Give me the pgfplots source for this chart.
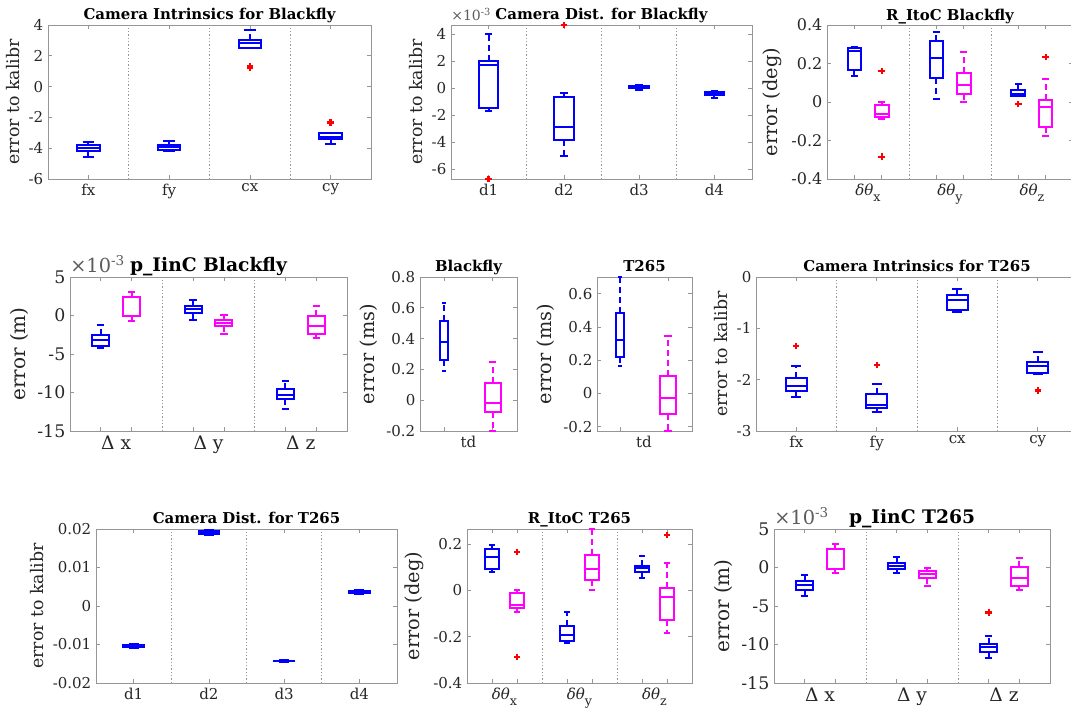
\documentclass[border=0pt]{standalone}
\usepackage{pgfplots}
\pgfplotsset{compat=1.18}
\usepgfplotslibrary{statistics}
\usepackage{fontspec}
\setmainfont{DejaVu Serif}
\newcommand\fs[1]{\fontsize{#1}{#1}\selectfont}
\definecolor{mblue}{RGB}{0,0,255}
\definecolor{mmag}{RGB}{255,0,255}
\definecolor{mred}{RGB}{255,0,0}
\definecolor{axgray}{RGB}{150,150,150}
\definecolor{txt}{RGB}{38,38,38}
\pgfplotsset{
  boxplot/draw/whisker/.code 2 args={%
    \draw[dash pattern=on 4.5pt off 3pt] (boxplot cs:#1) -- (boxplot cs:#2);
    \draw[solid] (boxplot whisker cs:#2,0) -- (boxplot whisker cs:#2,1);
  },
  every axis title/.style={at={(0.5,1)}, anchor=base, yshift=3.75pt, black, font=\bfseries\fs{11.2}},
  mat/.style={
    scale only axis, anchor=south west, clip=false,
    boxplot/draw direction=y, scaled y ticks=false,
    axis line style={axgray, line width=0.6pt},
    tick style={axgray, line width=0.5pt},
    tick align=inside, major tick length=3pt, minor tick length=3pt,
    tick label style={txt, font=\fs{11.25}},
    label style={txt},
    ylabel style={font=\fs{13}},
    xlabel style={font=\fs{11.25}},
    /pgf/number format/assume math mode=true,
  },
  lbig/.style={ylabel style={font=\fs{14.5}}},
  big/.style={
    yticklabel style={font=\fs{13}},
    xticklabel style={font=\fs{14}},
    ylabel style={font=\fs{15}},
    title style={font=\bfseries\fs{14}},
  },
  grp/.style={major x tick style={draw=none}},
  sep/.style={axgray, dash pattern=on 1pt off 1.5pt, line width=0.5pt, forget plot},
  out/.style={only marks, mark=+, mred, mark size=2.4pt, mark options={line width=1.7pt, solid}},
}
% color, position, lower whisker, lower quartile, median, upper quartile, upper whisker, box width, cap width
\newcommand\bx[9]{\addplot[#1, line width=1.5pt, boxplot prepared={draw position=#2, lower whisker=#3, lower quartile=#4, median=#5, upper quartile=#6, upper whisker=#7, box extend=#8, whisker extend=#9}] coordinates {};}
\newcommand\dth[1]{\textit{δθ}\raisebox{-5pt}{\fs{9.5}#1}}
\begin{document}
\begin{tikzpicture}
\path[use as bounding box] (0,0) rectangle (803.25pt,534.75pt);
\clip (0,0) rectangle (803.25pt,534.75pt);

% 1 Camera Intrinsics for Blackfly
\begin{axis}[mat, at={(36pt,400.5pt)}, width=242.25pt, height=115.5pt,
  xmin=0.5, xmax=4.5, ymin=-6, ymax=4, ytick={-6,-4,-2,0,2,4}, yticklabels={-6,-4,-2,0,2,4},
  xtick={1,2,3,4}, xticklabels={fx,fy,cx,cy},
  ylabel={error to kalibr}, title={Camera Intrinsics for Blackfly}]
\addplot[sep] coordinates {(1.5,-6) (1.5,4)};
\addplot[sep] coordinates {(2.5,-6) (2.5,4)};
\addplot[sep] coordinates {(3.5,-6) (3.5,4)};
\bx{mblue}{1}{-4.55}{-4.2}{-3.98}{-3.78}{-3.6}{0.28}{0.14}
\bx{mblue}{2}{-4.2}{-4.1}{-3.93}{-3.8}{-3.55}{0.28}{0.14}
\bx{mblue}{3}{2.48}{2.48}{2.81}{3.03}{3.68}{0.28}{0.14}
\bx{mblue}{4}{-3.73}{-3.42}{-3.25}{-2.99}{-2.99}{0.28}{0.14}
\addplot[out] coordinates {(3,1.35) (3,1.2) (4,-2.34)};
\end{axis}

% 2 Camera Dist. for Blackfly (x 1e-3)
\begin{axis}[mat, at={(338.25pt,400.5pt)}, width=225.75pt, height=115.5pt,
  xmin=0.5, xmax=4.5, ymin=-6.75, ymax=4.7, ytick={-6,-4,-2,0,2,4}, yticklabels={-6,-4,-2,0,2,4},
  xtick={1,2,3,4}, xticklabels={d1,d2,d3,d4},
  ylabel={error to kalibr}, title={Camera Dist. for Blackfly}]
\addplot[sep] coordinates {(1.5,-6.75) (1.5,4.7)};
\addplot[sep] coordinates {(2.5,-6.75) (2.5,4.7)};
\addplot[sep] coordinates {(3.5,-6.75) (3.5,4.7)};
\bx{mblue}{1}{-1.69}{-1.44}{1.71}{2.03}{4.0}{0.26}{0.1}
\bx{mblue}{2}{-5.06}{-3.83}{-2.85}{-0.63}{-0.33}{0.26}{0.1}
\bx{mblue}{3}{-0.12}{-0.02}{0.08}{0.15}{0.22}{0.26}{0.1}
\bx{mblue}{4}{-0.7}{-0.5}{-0.4}{-0.3}{-0.2}{0.26}{0.1}
\addplot[out] coordinates {(1,-6.74) (2,4.69)};
\node[anchor=south west, font=\fs{10.5}, txt!75, inner sep=0pt, yshift=3pt] at (rel axis cs:0,1) {×10\textsuperscript{-3}};
\end{axis}

% 3 R_ItoC Blackfly
\begin{axis}[mat, grp, lbig, at={(620.25pt,400.5pt)}, width=184.5pt, height=115.5pt,
  xmin=0, xmax=9, ymin=-0.4, ymax=0.4, ytick={-0.4,-0.2,0,0.2,0.4}, yticklabels={-0.4,-0.2,0,0.2,0.4},
  yticklabel style={font=\fs{12}},
  xtick={1.5,4.5,7.5}, xticklabels={\dth{x},\dth{y},\dth{z}}, minor xtick={1,2,4,5,7,8},
  ylabel={error (deg)}, title={R\_ItoC Blackfly}]
\addplot[sep] coordinates {(3,-0.4) (3,0.4)};
\addplot[sep] coordinates {(6,-0.4) (6,0.4)};
\bx{mblue}{1}{0.135}{0.166}{0.265}{0.28}{0.287}{0.5}{0.25}
\bx{mmag}{2}{-0.09}{-0.076}{-0.064}{-0.016}{0.0}{0.5}{0.25}
\bx{mblue}{4}{0.014}{0.126}{0.227}{0.319}{0.365}{0.5}{0.25}
\bx{mmag}{5}{0.0}{0.042}{0.088}{0.152}{0.26}{0.5}{0.25}
\bx{mblue}{7}{0.031}{0.031}{0.042}{0.062}{0.092}{0.5}{0.25}
\bx{mmag}{8}{-0.177}{-0.128}{-0.024}{0.010}{0.118}{0.5}{0.25}
\addplot[out] coordinates {(2,0.161) (2,-0.284) (7,-0.01) (8,0.235)};
\end{axis}

% 4 p_IinC Blackfly (x 1e-3)
\begin{axis}[mat, big, grp, at={(52.5pt,211.5pt)}, width=207.75pt, height=115.5pt,
  xmin=0, xmax=9, ymin=-15, ymax=5, ytick={-15,-10,-5,0,5}, yticklabels={-15,-10,-5,0,5},
  xtick={1.5,4.5,7.5}, xticklabels={Δ x,Δ y,Δ z}, minor xtick={1,2,4,5,7,8},
  ylabel={error (m)}, title={p\_IinC Blackfly}]
\addplot[sep] coordinates {(3,-15) (3,5)};
\addplot[sep] coordinates {(6,-15) (6,5)};
\bx{mblue}{1}{-4.16}{-3.98}{-3.12}{-2.47}{-1.26}{0.55}{0.24}
\bx{mmag}{2}{-0.7}{-0.1}{-0.01}{2.41}{3.06}{0.55}{0.24}
\bx{mblue}{4}{-0.53}{0.33}{0.9}{1.2}{1.98}{0.55}{0.24}
\bx{mmag}{5}{-2.34}{-1.3}{-0.96}{-0.62}{0.03}{0.55}{0.24}
\bx{mblue}{7}{-12.2}{-10.9}{-10.3}{-9.56}{-8.48}{0.55}{0.24}
\bx{mmag}{8}{-2.9}{-2.34}{-1.39}{-0.01}{1.29}{0.55}{0.24}
\node[anchor=south west, font=\fs{14.5}, txt!75, inner sep=0pt, yshift=3pt] at (rel axis cs:0,1) {×10\textsuperscript{-3}};
\end{axis}

% 5 Blackfly td
\begin{axis}[mat, grp, lbig, at={(315pt,211.5pt)}, width=72.75pt, height=115.5pt,
  xmin=0.5, xmax=2.5, ymin=-0.2, ymax=0.8, ytick={-0.2,0,0.2,0.4,0.6,0.8}, yticklabels={-0.2,0,0.2,0.4,0.6,0.8},
  xtick={1.5}, xticklabels={td}, minor xtick={1,2},
  ylabel={error (ms)}, title={Blackfly}]
\bx{mblue}{1}{0.19}{0.26}{0.375}{0.515}{0.63}{0.17}{0.08}
\bx{mmag}{2}{-0.2}{-0.075}{-0.021}{0.113}{0.249}{0.32}{0.15}
\end{axis}

% 6 T265 td
\begin{axis}[mat, grp, lbig, at={(447.75pt,211.5pt)}, width=71.25pt, height=115.5pt,
  xmin=0.52, xmax=2.5, ymin=-0.225, ymax=0.70, ytick={-0.2,0,0.2,0.4,0.6}, yticklabels={-0.2,0,0.2,0.4,0.6},
  xtick={1.5}, xticklabels={td}, minor xtick={1,2},
  ylabel={error (ms)}, title={T265}]
\bx{mblue}{1}{0.168}{0.217}{0.32}{0.481}{0.70}{0.17}{0.08}
\bx{mmag}{2}{-0.225}{-0.12}{-0.025}{0.108}{0.344}{0.32}{0.15}
\end{axis}

% 7 Camera Intrinsics for T265
\begin{axis}[mat, at={(567pt,211.5pt)}, width=241.5pt, height=115.5pt,
  xmin=0.5, xmax=4.5, ymin=-3, ymax=0, ytick={-3,-2,-1,0}, yticklabels={-3,-2,-1,0},
  xtick={1,2,3,4}, xticklabels={fx,fy,cx,cy},
  ylabel={error to kalibr}, title={Camera Intrinsics for T265}]
\addplot[sep] coordinates {(1.5,-3) (1.5,0)};
\addplot[sep] coordinates {(2.5,-3) (2.5,0)};
\addplot[sep] coordinates {(3.5,-3) (3.5,0)};
\bx{mblue}{1}{-2.33}{-2.23}{-2.13}{-1.97}{-1.74}{0.26}{0.13}
\bx{mblue}{2}{-2.63}{-2.56}{-2.49}{-2.28}{-2.08}{0.26}{0.13}
\bx{mblue}{3}{-0.69}{-0.65}{-0.44}{-0.36}{-0.23}{0.26}{0.13}
\bx{mblue}{4}{-1.89}{-1.87}{-1.74}{-1.65}{-1.47}{0.26}{0.13}
\addplot[out] coordinates {(1,-1.34) (2,-1.71) (4,-2.21)};
\end{axis}

% 8 Camera Dist. for T265
\begin{axis}[mat, at={(72pt,22.5pt)}, width=225.75pt, height=115.5pt,
  xmin=0.5, xmax=4.5, ymin=-0.02, ymax=0.02, ytick={-0.02,-0.01,0,0.01,0.02}, yticklabels={-0.02,-0.01,0,0.01,0.02},
  xtick={1,2,3,4}, xticklabels={d1,d2,d3,d4},
  ylabel={error to kalibr}, title={Camera Dist. for T265}]
\addplot[sep] coordinates {(1.5,-0.02) (1.5,0.02)};
\addplot[sep] coordinates {(2.5,-0.02) (2.5,0.02)};
\addplot[sep] coordinates {(3.5,-0.02) (3.5,0.02)};
\bx{mblue}{1}{-0.0109}{-0.0106}{-0.0104}{-0.0101}{-0.0099}{0.27}{0.13}
\bx{mblue}{2}{0.0184}{0.0188}{0.0191}{0.0194}{0.0197}{0.27}{0.13}
\bx{mblue}{3}{-0.0146}{-0.0144}{-0.0143}{-0.0142}{-0.0140}{0.27}{0.13}
\bx{mblue}{4}{0.0031}{0.0035}{0.0037}{0.0039}{0.0041}{0.27}{0.13}
\end{axis}

% 9 R_ItoC T265
\begin{axis}[mat, grp, lbig, at={(350.25pt,22.5pt)}, width=168.75pt, height=115.5pt,
  xmin=0, xmax=9, ymin=-0.4, ymax=0.265, ytick={-0.4,-0.2,0,0.2}, yticklabels={-0.4,-0.2,0,0.2},
  xtick={1.5,4.5,7.5}, xticklabels={\dth{x},\dth{y},\dth{z}}, minor xtick={1,2,4,5,7,8},
  ylabel={error (deg)}, title={R\_ItoC T265}]
\addplot[sep] coordinates {(3,-0.4) (3,0.265)};
\addplot[sep] coordinates {(6,-0.4) (6,0.265)};
\bx{mblue}{1}{0.081}{0.092}{0.144}{0.18}{0.197}{0.55}{0.25}
\bx{mmag}{2}{-0.092}{-0.075}{-0.063}{-0.0125}{0.002}{0.55}{0.25}
\bx{mblue}{4}{-0.226}{-0.218}{-0.193}{-0.154}{-0.095}{0.55}{0.25}
\bx{mmag}{5}{0.0}{0.045}{0.092}{0.154}{0.265}{0.55}{0.25}
\bx{mblue}{7}{0.053}{0.081}{0.096}{0.106}{0.147}{0.55}{0.25}
\bx{mmag}{8}{-0.182}{-0.128}{-0.027}{0.012}{0.12}{0.55}{0.25}
\addplot[out] coordinates {(2,0.165) (2,-0.287) (8,0.238)};
\end{axis}

% 10 p_IinC T265 (x 1e-3)
\begin{axis}[mat, big, grp, at={(580.5pt,22.5pt)}, width=207pt, height=115.5pt,
  xmin=0, xmax=9, ymin=-15, ymax=5, ytick={-15,-10,-5,0,5}, yticklabels={-15,-10,-5,0,5},
  xtick={1.5,4.5,7.5}, xticklabels={Δ x,Δ y,Δ z}, minor xtick={1,2,4,5,7,8},
  ylabel={error (m)}, title={p\_IinC T265}]
\addplot[sep] coordinates {(3,-15) (3,5)};
\addplot[sep] coordinates {(6,-15) (6,5)};
\bx{mblue}{1}{-3.7}{-2.91}{-2.26}{-1.74}{-0.96}{0.55}{0.24}
\bx{mmag}{2}{-0.65}{-0.2}{-0.17}{2.43}{3.09}{0.55}{0.24}
\bx{mblue}{4}{-0.65}{-0.17}{0.22}{0.57}{1.35}{0.55}{0.24}
\bx{mmag}{5}{-2.39}{-1.39}{-0.87}{-0.52}{-0.04}{0.55}{0.24}
\bx{mblue}{7}{-11.8}{-10.96}{-10.3}{-9.96}{-8.91}{0.55}{0.24}
\bx{mmag}{8}{-2.91}{-2.39}{-1.39}{0.0}{1.22}{0.55}{0.24}
\addplot[out] coordinates {(7,-5.83)};
\node[anchor=south west, font=\fs{14.5}, txt!75, inner sep=0pt, yshift=3pt] at (rel axis cs:0,1) {×10\textsuperscript{-3}};
\end{axis}
\end{tikzpicture}
\end{document}
